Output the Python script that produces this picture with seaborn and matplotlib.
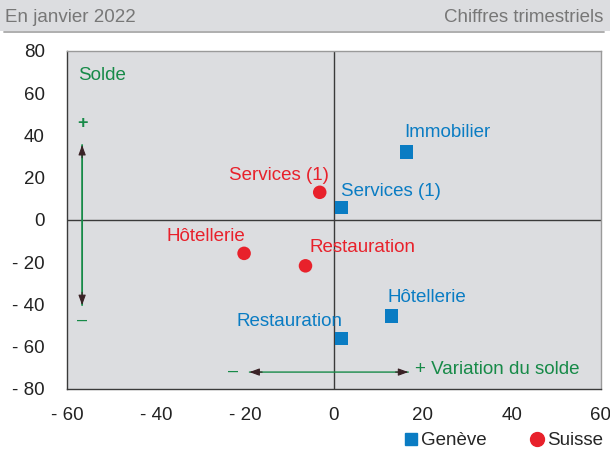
import pandas as pd
import numpy as np
import matplotlib.pyplot as plt
import seaborn as sns
from matplotlib.ticker import FuncFormatter, MultipleLocator

# Values (x = variation du solde, y = solde)
sectors_geneve = ['Immobilier', 'Services (1)', 'Hôtellerie', 'Restauration']
x_geneve = [16.3, 1.7, 12.9, 1.7]
y_geneve = [32.1, 6.0, -45.5, -56.0]

sectors_suisse = ['Services (1)', 'Hôtellerie', 'Restauration']
x_suisse = [-3.2, -20.2, -6.4]
y_suisse = [13.1, -15.8, -21.7]

regions = ['Genève', 'Suisse']

df = pd.concat([
    pd.DataFrame({'secteur': sectors_geneve, 'variation': x_geneve, 'solde': y_geneve, 'region': 'Genève'}),
    pd.DataFrame({'secteur': sectors_suisse, 'variation': x_suisse, 'solde': y_suisse, 'region': 'Suisse'}),
], ignore_index=True)

BLUE = '#0a7cc3'
RED = '#e8212b'
GREEN = '#178a48'
DARK_HEAD = '#3a2226'
BG = '#dcdde0'
FS = 13.5

sns.set_style('white')
plt.rcParams['font.family'] = ['Liberation Sans', 'DejaVu Sans']

fig = plt.figure(figsize=(6.1, 4.5), dpi=100)
ax = fig.add_axes([0.1098, 0.1356, 0.8754, 0.7511])
ax.set_facecolor(BG)

sns.scatterplot(data=df, x='variation', y='solde', hue='region', style='region',
                hue_order=regions, style_order=regions,
                palette={'Genève': BLUE, 'Suisse': RED},
                markers={'Genève': 's', 'Suisse': 'o'},
                s=95, linewidth=0, ax=ax, zorder=3, legend=False)

# label offsets (pixels) and alignment per point
label_pos = {
    ('Genève', 'Immobilier'): (-2, 20, 'left'),
    ('Genève', 'Services (1)'): (-1, 16, 'left'),
    ('Genève', 'Hôtellerie'): (-4, 19, 'left'),
    ('Genève', 'Restauration'): (1, 17, 'right'),
    ('Suisse', 'Services (1)'): (9, 17, 'right'),
    ('Suisse', 'Hôtellerie'): (1, 17, 'right'),
    ('Suisse', 'Restauration'): (4, 18, 'left'),
}
for _, r in df.iterrows():
    dx, dy, ha = label_pos[(r['region'], r['secteur'])]
    ax.annotate(r['secteur'], (r['variation'], r['solde']),
                xytext=(dx * 0.72, dy * 0.72), textcoords='offset points',
                ha=ha, va='center', fontsize=FS,
                color=BLUE if r['region'] == 'Genève' else RED)

ax.set_xlim(-60, 60)
ax.set_ylim(-80, 80)
ax.xaxis.set_major_locator(MultipleLocator(20))
ax.yaxis.set_major_locator(MultipleLocator(20))
fmt = FuncFormatter(lambda v, p: f'- {abs(int(v))}' if v < 0 else f'{int(v)}')
ax.xaxis.set_major_formatter(fmt)
ax.yaxis.set_major_formatter(fmt)
ax.tick_params(axis='both', which='major', labelsize=FS, colors='#222222',
               length=8, width=1, direction='out')
ax.tick_params(axis='x', pad=5)
ax.tick_params(axis='y', pad=8)
ax.set_xlabel('')
ax.set_ylabel('')

ax.axhline(0, color='#3a3a3a', lw=1, zorder=1)
ax.axvline(0, color='#3a3a3a', lw=1, zorder=1)

for side in ['left', 'bottom']:
    ax.spines[side].set_color('#3a3a3a')
    ax.spines[side].set_linewidth(1)
for side in ['top', 'right']:
    ax.spines[side].set_color('#9a9a9a')
    ax.spines[side].set_linewidth(1)


def double_arrow(p0, p1, lw):
    # green shaft with dark arrow heads at both ends
    ax.annotate('', xy=p1, xytext=p0,
                arrowprops=dict(arrowstyle='-', color=GREEN, lw=lw, shrinkA=0, shrinkB=0))
    for a, b in [(p0, p1), (p1, p0)]:
        tail = (a[0] + (b[0] - a[0]) * 0.08, a[1] + (b[1] - a[1]) * 0.08)
        ax.annotate('', xy=a, xytext=tail,
                    arrowprops=dict(arrowstyle='-|>,head_length=0.6,head_width=0.22',
                                    color=DARK_HEAD, lw=0.8, shrinkA=0, shrinkB=0))


# axis reading helpers
ax.text(-57.5, 68.5, 'Solde', color=GREEN, fontsize=FS, ha='left', va='center')
ax.text(-56.6, 45.5, '+', color=GREEN, fontsize=13, fontweight='bold', ha='center', va='center')
ax.text(-56.6, -47.5, '–', color=GREEN, fontsize=13, ha='center', va='center')
double_arrow((-56.6, -40.3), (-56.6, 35.5), 1.3)
ax.text(-22.6, -71.5, '–', color=GREEN, fontsize=13, ha='center', va='center')
double_arrow((-19, -72), (16.7, -72), 1.0)
ax.text(18.3, -70.8, '+ Variation du solde', color=GREEN, fontsize=FS,
        ha='left', va='center')

# header band
fig.patches.append(plt.Rectangle((0, 1 - 31 / 450), 1, 31 / 450, transform=fig.transFigure,
                                 facecolor=BG, edgecolor='none', zorder=0))
fig.add_artist(plt.Line2D([4 / 610, 604 / 610], [1 - 32 / 450] * 2, color='#a8a8a8', lw=1.3))
fig.text(5 / 610, 1 - 18 / 450, 'En janvier 2022', color='#777777', fontsize=FS, ha='left', va='center')
fig.text(603 / 610, 1 - 18 / 450, 'Chiffres trimestriels', color='#777777', fontsize=FS, ha='right', va='center')

# legend
handles = [plt.Line2D([], [], marker='s', color=BLUE, ls='', markersize=9),
           plt.Line2D([], [], marker='o', color=RED, ls='', markersize=10)]
fig.legend(handles, regions, loc='lower right', bbox_to_anchor=(1.017, -0.036), ncol=2,
           frameon=False, fontsize=FS, handletextpad=0.05, columnspacing=2.2,
           handlelength=1.0)

fig.savefig('out.png', dpi=100)
